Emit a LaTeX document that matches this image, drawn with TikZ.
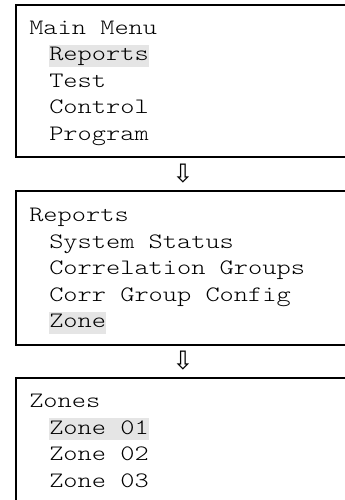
\documentclass[tikz,border=0pt]{standalone}
\usepackage{fontspec}
\setmonofont[FakeStretch=1.23]{lmmonolt10-regular.otf}
\newfontfamily\arrowfont{DejaVu Sans}
\usepackage{tikz}
\usepackage{xcolor}

\tikzset{
  menutitle/.style={anchor=base west,inner sep=0pt,font=\ttfamily\fontsize{16.5}{20}\selectfont},
  menuitem/.style={menutitle,text height=12pt,text depth=4.5pt},
  picked/.style={menuitem,fill=gray!20},
  frame/.style={line width=1.5pt},
  downarrow/.style={inner sep=0pt,font=\arrowfont\fontsize{19}{20}\selectfont}
}

\begin{document}
\begin{tikzpicture}[x=0.75pt,y=0.75pt]
\clip (0,0) rectangle (345,-500);
\fill[white] (0,0) rectangle (345,-500);
% main menu
\draw[frame] (16,-5) rectangle (360,-157);
\node[menutitle] (mainT) at (29,-34) {Main Menu};
\node[picked] (mainA) at (49,-60.5) {Reports};
\node[menuitem] (mainB) at (49,-87) {Test};
\node[menuitem] (mainC) at (49,-113.5) {Control};
\node[menuitem] (mainD) at (49,-140) {Program};
\node[downarrow] (arrA) at (183,-174) {⇩};
% reports
\draw[frame] (16,-191) rectangle (360,-345);
\node[menutitle] (repT) at (29,-221.5) {Reports};
\node[menuitem] (repA) at (49,-248) {System Status};
\node[menuitem] (repB) at (49,-274.5) {Correlation Groups};
\node[menuitem] (repC) at (49,-301) {Corr Group Config};
\node[picked] (repD) at (49,-327.5) {Zone};
\node[downarrow] (arrB) at (183,-361) {⇩};
% zones
\draw[frame] (16,-378) rectangle (360,-520);
\node[menutitle] (zoneT) at (29,-407.5) {Zones};
\node[picked] (zoneA) at (49,-434) {Zone 01};
\node[menuitem] (zoneB) at (49,-460.5) {Zone 02};
\node[menuitem] (zoneC) at (49,-487) {Zone 03};
\end{tikzpicture}
\end{document}
